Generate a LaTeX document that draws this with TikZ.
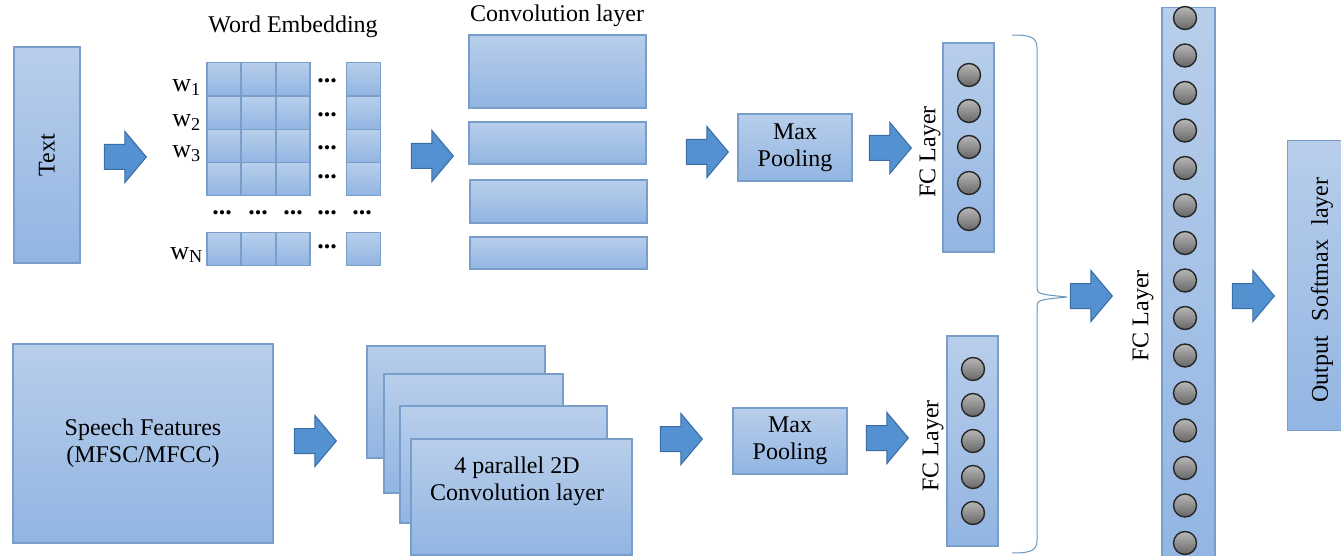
\documentclass[tikz,border=0pt]{standalone}
\usepackage{fontspec}
\setmainfont{Liberation Serif}
\usetikzlibrary{shapes.arrows}

\definecolor{boxtop}{RGB}{184,206,235}
\definecolor{boxbot}{RGB}{146,181,226}
\definecolor{boxline}{RGB}{122,158,202}
\definecolor{arrfill}{RGB}{84,145,208}
\definecolor{arrline}{RGB}{58,108,165}
\definecolor{bracecol}{RGB}{104,150,188}

\begin{document}
\begin{tikzpicture}[x=1pt,y=-1pt,
                font=\fontsize{24}{27}\selectfont,
                layer box/.style={rectangle,draw=boxline,line width=1.1pt,top color=boxtop,bottom color=boxbot,inner sep=0pt},
                cell/.style={layer box,minimum width=34pt,minimum height=33pt},
                block arrow/.style={single arrow,draw=arrline,line width=1pt,fill=arrfill,anchor=tip,
                        inner xsep=0pt,inner ysep=12pt,
                        minimum height=42pt,minimum width=50pt,single arrow head extend=13pt,
                        single arrow tip angle=100,single arrow head indent=0pt},
                neuron/.style={circle,draw=black!85,line width=1.4pt,top color=black!28,bottom color=black!60,minimum size=23pt,inner sep=0pt},
                dots/.style={font=\fontsize{26}{26}\selectfont\bfseries,inner sep=0pt},
                wlabel/.style={anchor=base east,font=\fontsize{26}{26}\selectfont,inner sep=0pt}]
	\useasboundingbox (0,0) rectangle (1341,556);

	% text branch
	\node[layer box,minimum width=66pt,minimum height=216pt] (text) at (47,155) {\rotatebox{90}{Text}};
	\node[block arrow] (a1) at (147,157) {};
	\node (embtitle) at (293,27) {Word Embedding};
	\foreach \r/\y in {1/79,2/113,3/146,4/179,N/249}
		\foreach \c/\x in {1/224,2/258.5,3/293,5/363.5}
			\node[cell] (w\r c\c) at (\x,\y) {};
	\foreach \r/\y in {1/81,2/115,3/148,4/177,N/247}
		\node[dots] (d\r) at (327,\y) {...};
	\foreach \c/\x in {1/222,2/258,3/293,4/327,5/362}
		\node[dots] (dr\c) at (\x,213) {...};
	\node[wlabel] (lw1) at (201,92) {w\textsubscript{1}};
	\node[wlabel] (lw2) at (201,127) {w\textsubscript{2}};
	\node[wlabel] (lw3) at (201,158) {w\textsubscript{3}};
	\node[wlabel] (lwN) at (203,259) {w\textsubscript{N}};
	\node[block arrow] (a2) at (454,156) {};
	\node (convtitle) at (557,16) {Convolution layer};
	\node[layer box,minimum width=177pt,minimum height=73pt] (conv1) at (557.5,71.5) {};
	\node[layer box,minimum width=177pt,minimum height=42pt] (conv2) at (557.5,143) {};
	\node[layer box,minimum width=177pt,minimum height=43pt] (conv3) at (558.5,201.5) {};
	\node[layer box,minimum width=177pt,minimum height=32pt] (conv4) at (558.5,253) {};
	\node[block arrow] (a3) at (729,152) {};
	\node[layer box,minimum width=114pt,minimum height=67pt,align=center] (pooltop) at (795,147.5) {Max\\Pooling};
	\node[block arrow] (a4) at (912,148) {};
	\node[layer box,minimum width=51pt,minimum height=209pt] (fctop) at (968.5,147.5) {};
	\foreach \i in {0,...,4}
		\node[neuron] (nt\i) at (969,75+36*\i) {};
	\node[rotate=90] (fctoplbl) at (930,152) {FC Layer};

	% speech branch
	\node[layer box,minimum width=260pt,minimum height=199pt,align=center] (speech) at (143,443.5) {Speech Features\\(MFSC/MFCC)};
	\node[block arrow] (b1) at (337,441) {};
	\node[layer box,minimum width=178pt,minimum height=112pt] (s1) at (456,402) {};
	\node[layer box,minimum width=179pt,minimum height=119pt] (s2) at (473.5,433.5) {};
	\node[layer box,minimum width=207pt,minimum height=117pt] (s3) at (503.5,464.5) {};
	\node[layer box,minimum width=221pt,minimum height=116pt] (s4) at (521.5,497) {};
	\node[align=center] (s4lbl) at (517,481) {4 parallel 2D\\Convolution layer};
	\node[block arrow] (b2) at (703,439) {};
	\node[layer box,minimum width=114pt,minimum height=66pt,align=center] (poolbot) at (790,441) {Max\\Pooling};
	\node[block arrow] (b3) at (909,438) {};
	\node[layer box,minimum width=51pt,minimum height=210pt] (fcbot) at (972.5,441) {};
	\foreach \i in {0,...,4}
		\node[neuron] (nb\i) at (973,369+36*\i) {};
	\node[rotate=90] (fcbotlbl) at (933,446) {FC Layer};

	% merge
	\draw[bracecol,line width=1pt] (1012,35) .. controls (1030,35) and (1037,37) .. (1037,48) -- (1037,286)
		.. controls (1037,294) .. (1067,297) .. controls (1037,300) .. (1037,308) -- (1037,540)
		.. controls (1037,551) and (1030,553) .. (1012,553);
	\node[block arrow] (c1) at (1113,296) {};
	\node[layer box,minimum width=53pt,minimum height=560pt,anchor=north] (fcbig) at (1188.5,7) {};
	\foreach \i in {0,...,14}
		\node[neuron] (nf\i) at (1185,18+37.5*\i) {};
	\node[rotate=90] (fcbiglbl) at (1143,316) {FC Layer};
	\node[block arrow] (c2) at (1275,296) {};
	\node[layer box,minimum width=64pt,minimum height=290pt,anchor=north west] (softmax) at (1287,140) {};
	\node[rotate=90] (softmaxlbl) at (1322,290) {Output\hspace{0.6em}Softmax\hspace{0.6em}layer};

\end{tikzpicture}
\end{document}
